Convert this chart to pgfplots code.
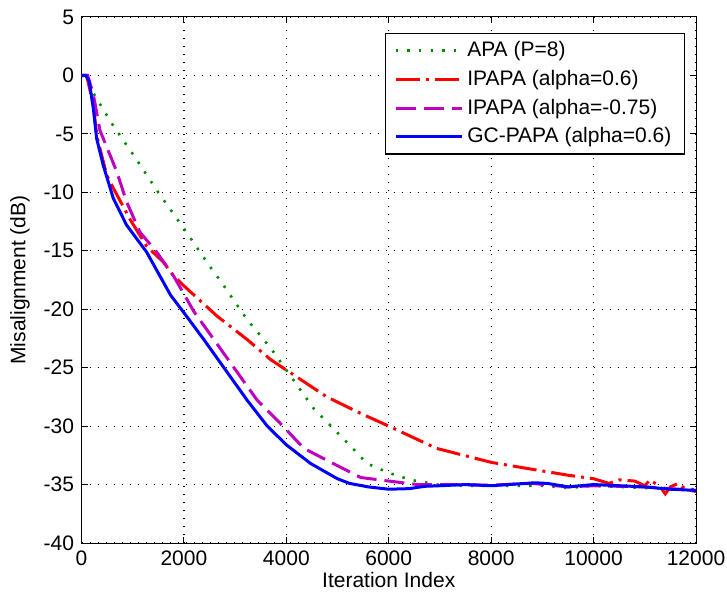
\documentclass[border=0pt]{standalone}
\usepackage{fontspec}
\setmainfont{Liberation Sans}
\usepackage{pgfplots}
\pgfplotsset{compat=1.18}
\definecolor{mgreen}{RGB}{0,140,0}
\definecolor{mred}{RGB}{255,0,0}
\definecolor{mmag}{RGB}{191,0,191}
\definecolor{mblue}{RGB}{0,0,255}
\begin{document}
\fontsize{10.5}{12.6}\selectfont
\begin{tikzpicture}
\path[use as bounding box] (-40.75pt,-25.5pt) rectangle (322.75pt,271.5pt);
\begin{axis}[
  at={(0pt,0pt)}, anchor=south west,
  scale only axis, width=307.25pt, height=263pt,
  xmin=0, xmax=12000, ymin=-40, ymax=5,
  xtick={0,2000,...,12000}, ytick={-40,-35,...,5},
  /pgf/number format/assume math mode=true,
  xticklabel style={/pgf/number format/1000 sep={}},
  scaled x ticks=false,
  tick align=inside, major tick length=3pt,
  xtick pos=both, ytick pos=both,
  tick style={black, line width=0.5pt},
  axis line style={black, line width=0.5pt},
  grid=major,
  grid style={black, line width=0.6pt, dash pattern=on 0.6pt off 3.4pt},
  ticklabel style={font=\fontsize{10.5}{12.6}\selectfont},
  xlabel={Iteration Index}, ylabel={Misalignment (dB)},
  label style={font=\fontsize{10.5}{12.6}\selectfont},
  xlabel style={at={(axis description cs:0.5,-0.0703)}, anchor=center},
  ylabel style={at={(axis description cs:-0.100,0.5)}, anchor=center},
  legend cell align=left,
  legend style={at={(axis description cs:0.982,0.970)}, anchor=north east,
    draw=black, line width=0.6pt, font=\fontsize{10.5}{12.6}\selectfont,
    row sep=1.2pt, inner xsep=4.5pt, inner ysep=2pt},
  legend image code/.code={\draw[#1] (0pt,0pt) -- (33pt,0pt);},
]
\addplot[mgreen, line width=1.3pt, dash pattern=on 1.2pt off 4.6pt] coordinates {
(0,0) (100,-0.2) (230,-1.5) (590,-4.1) (1076,-7.2) (1466,-9.8) (2000,-13.1)
(2500,-16.3) (2717,-17.6) (3237,-20.9) (3690,-23.3) (4000,-25.2) (4535,-28.5)
(5120,-31.1) (5577,-33.2) (6000,-34.0) (6430,-34.6) (6950,-35.0) (7500,-35.1)
(8000,-35.1) (9000,-35.1) (9500,-35.3) (10000,-35.1) (11000,-35.3) (12000,-35.4)};
\addlegendentry{APA (P=8)}
\addplot[mred, line width=1.5pt, dash pattern=on 12pt off 3pt on 1.5pt off 3pt] coordinates {
(0,0) (100,0) (230,-2.5) (300,-5.2) (491,-8.5) (556,-9.1) (946,-12.3) (1271,-14.6)
(1595,-15.95) (1790,-17.1) (2000,-18.0) (2650,-20.6) (3237,-22.6) (3690,-24.3)
(4000,-25.2) (4790,-27.5) (5445,-28.9) (6000,-30.0) (6930,-31.9) (8000,-33.1)
(8810,-33.7) (9500,-34.2) (10000,-34.5) (10300,-34.9) (10500,-34.6) (10800,-34.7)
(11000,-35.1) (11100,-34.6) (11300,-35.2) (11400,-35.8) (11500,-35.2) (11650,-34.9)
(11800,-35.4) (12000,-35.6)};
\addlegendentry{IPAPA (alpha=0.6)}
\addplot[mmag, line width=1.5pt, dash pattern=on 10pt off 4pt] coordinates {
(0,0) (120,0) (230,-1.6) (360,-4.7) (686,-8.2) (880,-10.8) (1140,-13.4) (1466,-15.1)
(1790,-17.1) (1935,-18.2) (2195,-20.2) (2586,-22.6) (2977,-25) (3433,-27.8)
(3889,-29.8) (4342,-31.9) (4870,-33.1) (5455,-34.4) (6000,-34.7) (6560,-35)
(7000,-35.0) (8000,-35.05) (8800,-34.9) (9500,-35.2) (10000,-35.1) (11000,-35.2)
(12000,-35.5)};
\addlegendentry{IPAPA (alpha=-0.75)}
\addplot[mblue, line width=1.5pt] coordinates {
(0,0) (80,0) (150,-0.5) (230,-2.8) (296,-5.4) (425,-7.7) (620,-10.5) (880,-12.8)
(1270,-15.1) (1740,-18.8) (2000,-20.3) (2390,-22.6) (2781,-25) (3237,-27.8)
(3628,-30) (4000,-31.6) (4475,-33.2) (4996,-34.5) (5234,-34.9) (5600,-35.2)
(6000,-35.4) (6400,-35.35) (6700,-35.15) (7000,-35.1) (7500,-35.0) (8000,-35.1)
(8500,-34.95) (8850,-34.85) (9100,-34.9) (9500,-35.2) (10000,-35.0) (10500,-35.1)
(11000,-35.2) (11500,-35.4) (12000,-35.5)};
\addlegendentry{GC-PAPA (alpha=0.6)}
\end{axis}
\end{tikzpicture}
\end{document}
